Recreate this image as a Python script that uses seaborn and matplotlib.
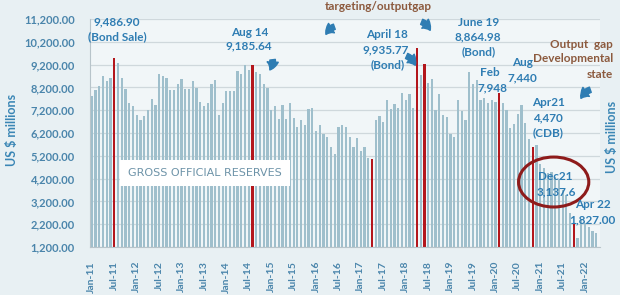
import numpy as np
import pandas as pd
import matplotlib
matplotlib.use('Agg')
import matplotlib.pyplot as plt
from matplotlib.patches import Ellipse
from matplotlib.ticker import FuncFormatter
import seaborn as sns

# ==============================================================================
# DADOS (US$ milhões, mensal Jan-11 .. Apr-22)
# ==============================================================================
reserves = [
    7830, 8100, 8270, 8700, 8500, 8600, 9487, 9280, 8600, 8150, 7530, 7380,   # 2011
    6980, 6790, 6940, 7230, 7680, 7410, 8800, 8700, 8620, 8070, 8070, 8330,   # 2012
    8550, 8140, 8140, 8500, 8180, 7570, 7380, 7500, 8360, 8530, 6980, 7500,   # 2013
    8060, 8060, 8060, 8900, 8780, 9200, 8970, 9186, 8870, 8800, 8360, 8190,   # 2014
    7190, 7380, 6820, 7440, 6820, 7510, 6850, 6450, 6770, 6550, 7260, 7290,   # 2015
    6270, 6570, 6150, 6010, 5600, 5270, 6450, 6550, 6450, 6020, 5600, 5970,   # 2016
    5420, 5600, 5090, 5060, 6750, 6930, 6680, 7660, 7270, 7490, 7310, 7970,   # 2017
    7660, 7920, 7310, 9936, 8760, 9240, 8390, 8580, 7200, 7900, 6980, 6910,   # 2018
    6170, 6020, 7660, 7170, 6750, 8865, 8370, 8520, 7640, 7750, 7520, 7640,   # 2019
    7570, 7948, 7530, 7230, 6400, 6600, 7050, 7440, 6650, 5950, 5580, 5670,   # 2020
    4820, 4660, 4440, 4500, 4270, 4140, 3700, 3480, 2690, 2250, 1600, 2380,   # 2021
    2250, 2080, 1900, 1810,                                                   # 2022
]
months = pd.date_range('2011-01-01', periods=len(reserves), freq='MS').strftime('%b-%y').tolist()
highlight = ['Jul-11', 'Aug-14', 'Apr-17', 'Apr-18', 'Jun-18', 'Feb-20', 'Nov-20', 'Oct-21']
tick_labels = ['Jan-11', 'Jul-11', 'Jan-12', 'Jul-12', 'Jan-13', 'Jul-13', 'Jan-14', 'Jul-14',
               'Jan-15', 'Jul-15', 'Jan-16', 'Jul-16', 'Jan-17', 'Jul-17', 'Jan-18', 'Jul-18',
               'Jan-19', 'Jul-19', 'Jan-20', 'Jul-20', 'Jan-21', 'Jul-21', 'Jan-22']
y_ticks = [1200, 2200, 3200, 4200, 5200, 6200, 7200, 8200, 9200, 10200, 11200]

df = pd.DataFrame({'mes': months, 'reservas': reserves})
df['destaque'] = np.where(df['mes'].isin(highlight), 'red', 'normal')

# cores
BG = '#e8f0f3'
BAR = '#9fbfcc'
RED = '#b3161c'
BLUE = '#2f7db3'
TICK = '#4a85ab'
BROWN = '#8c5a3e'

sns.set_style('white')
plt.rcParams['font.family'] = ['Lato', 'DejaVu Sans']

W, H = 620, 295
fig = plt.figure(figsize=(W / 100, H / 100), dpi=100, facecolor=BG)
ax = fig.add_axes([90 / W, 1 - 247 / H, 510 / W, 228 / H])
ax.set_facecolor('#f1f6f8')

sns.barplot(data=df, x='mes', y='reservas', hue='destaque',
            palette={'normal': BAR, 'red': RED}, dodge=False, width=0.6,
            saturation=1, errorbar=None, legend=False, ax=ax,
            edgecolor='none', linewidth=0)

ax.set_ylim(1200, 11200)
ax.set_xlim(-0.5, 136)
ax.set_yticks(y_ticks)
ax.yaxis.set_major_formatter(FuncFormatter(lambda v, p: f'{v:,.2f}'))
ax.set_xticks(range(0, len(reserves), 6))
ax.set_xticklabels(tick_labels, rotation=90)
ax.set_xticks(np.arange(-0.5, len(reserves), 6), minor=True)
ax.tick_params(axis='x', which='major', length=0, pad=10, labelsize=7.5, labelcolor=TICK)
ax.tick_params(axis='x', which='minor', length=4, color='#b8c4ca')
ax.tick_params(axis='y', length=3, color='#b8c4ca', pad=8, labelsize=8, labelcolor=TICK)
for lab in ax.get_yticklabels() + ax.get_xticklabels():
    lab.set_fontweight('bold')
ax.set_xlabel('')
ax.set_ylabel('')
ax.yaxis.grid(True, color='#cfd8dc', lw=0.9)
ax.set_axisbelow(True)
for s in ['top', 'right']:
    ax.spines[s].set_visible(False)
for s in ['left', 'bottom']:
    ax.spines[s].set_color('#b8c4ca')

# elipse em torno de Dec21
ax.add_patch(Ellipse((123.6, 4050), 18.8, 2190, fill=False, edgecolor='#8e1b1b', lw=2.2, zorder=5))


def fx(px):
    return px / W


def fy(py):
    return 1 - py / H


# rótulos dos eixos
fig.text(fx(12), fy(130), 'US $ millions', rotation=90, ha='center', va='center',
         color='#3a86b5', fontsize=9, fontweight='bold')
fig.text(fx(612), fy(137), 'US $ millions', rotation=90, ha='center', va='center',
         color='#3a86b5', fontsize=9, fontweight='bold')

# anotações
notes = [
    ('9,486.90', 117, 22, BLUE, 'center'),
    ('(Bond Sale)', 117, 37, BLUE, 'center'),
    ('Aug 14', 250, 32, BLUE, 'center'),
    ('9,185.64', 249, 46, BLUE, 'center'),
    ('April 18', 387, 35, BLUE, 'center'),
    ('9,935.77', 386, 50, BLUE, 'center'),
    ('(Bond)', 388, 65, BLUE, 'center'),
    ('June 19', 479, 22, BLUE, 'center'),
    ('8,864.98', 478, 37, BLUE, 'center'),
    ('(Bond)', 479, 52, BLUE, 'center'),
    ('Feb', 490, 73, BLUE, 'center'),
    ('7,948', 492, 88, BLUE, 'center'),
    ('Aug', 523, 63, BLUE, 'center'),
    ('7,440', 522, 78, BLUE, 'center'),
    ('Apr21', 548, 103, BLUE, 'center'),
    ('4,470', 548, 118, BLUE, 'center'),
    ('(CDB)', 548, 133, BLUE, 'center'),
    ('Dec21', 555, 177, BLUE, 'center'),
    ('3,137.6', 556, 192, BLUE, 'center'),
    ('Apr 22', 593, 205, BLUE, 'center'),
    ('1,827.00', 592, 220, BLUE, 'center'),
    ('targeting/outputgap', 378, 6, BROWN, 'center'),
    ('Output  gap', 613, 44, BROWN, 'right'),
    ('Developmental', 613, 59, BROWN, 'right'),
    ('state', 613, 74, BROWN, 'right'),
]
for txt, px, py, c, ha in notes:
    fig.text(fx(px), fy(py), txt, ha=ha, va='center', color=c, fontsize=8.5, fontweight='bold')

fig.text(fx(205), fy(173), 'GROSS OFFICIAL RESERVES', ha='center', va='center',
         color='#6d93a8', fontsize=8, family='DejaVu Sans',
         bbox=dict(facecolor='white', edgecolor='none', boxstyle='square,pad=0.75'))

# setas
arrows = [
    ((272, 57), (268, 72), -0.3),
    ((337, 26), (325, 37), 0.3),
    ((404, 55), (416, 68), -0.3),
    ((419, 21), (431, 33), -0.3),
    ((593, 89), (580, 101), 0.3),
]
for (x0, y0), (x1, y1), rad in arrows:
    ax.annotate('', xy=(fx(x1), fy(y1)), xytext=(fx(x0), fy(y0)), xycoords='figure fraction',
                arrowprops=dict(arrowstyle='simple,head_length=0.6,head_width=0.8,tail_width=0.4',
                                color=BLUE, connectionstyle=f'arc3,rad={rad}', mutation_scale=10))

fig.savefig('out.png', dpi=100, facecolor=fig.get_facecolor())
